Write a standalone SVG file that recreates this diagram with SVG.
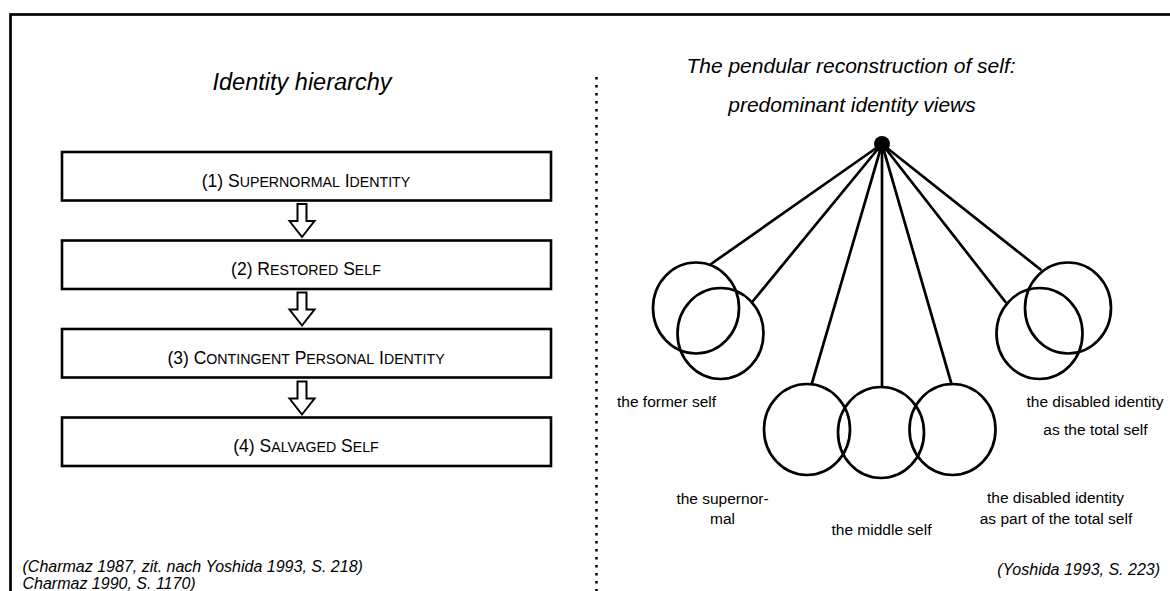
<svg xmlns="http://www.w3.org/2000/svg" width="1170" height="591" viewBox="0 0 1170 591">
  <style>
    .frame { fill: none; stroke: #000; stroke-width: 2.7; }
    .box { fill: #fff; stroke: #000; stroke-width: 2.6; }
    .boxtxt { font-family: "Liberation Sans", Arial, sans-serif; font-size: 17.5px; fill: #000; text-anchor: middle; }
    .sc { font-size: 14.2px; }
    .arrow { fill: #fff; stroke: #000; stroke-width: 2; stroke-linejoin: miter; }
    .title { font-family: "Liberation Sans", Arial, sans-serif; font-style: italic; fill: #000; text-anchor: middle; }
    .cite { font-family: "Liberation Sans", Arial, sans-serif; font-style: italic; font-size: 16px; fill: #000; }
    .lbl { font-family: "Liberation Sans", Arial, sans-serif; font-size: 15.5px; fill: #000; text-anchor: middle; }
    .string { stroke: #000; stroke-width: 2.7; fill: none; stroke-linecap: round; }
    .bob { fill: none; stroke: #000; stroke-width: 2.7; }
    .divider { stroke: #000; stroke-width: 2.6; stroke-dasharray: 2.6 5.4; fill: none; }
  </style>
  <defs>
    <!-- hollow block arrow, tip at (0,33) -->
    <path id="down" d="M-4.5,0 H4.5 V17 H12.5 L0,33 L-12.5,17 H-4.5 Z"/>
  </defs>

  <rect width="1170" height="591" fill="#fff"/>
  <!-- outer frame (runs off the right and bottom edges) -->
  <rect class="frame" x="10.5" y="14.5" width="1200" height="620"/>

  <!-- vertical dotted divider -->
  <line class="divider" x1="596.5" y1="77" x2="596.5" y2="591"/>

  <!-- left panel: identity hierarchy -->
  <text class="title" x="302" y="90" font-size="23.5">Identity hierarchy</text>

  <g id="level1">
    <rect class="box" x="62" y="152" width="489" height="48.5"/>
    <text class="boxtxt" x="306" y="187">(1) S<tspan class="sc">UPERNORMAL</tspan> I<tspan class="sc">DENTITY</tspan></text>
  </g>
  <g id="level2">
    <rect class="box" x="62" y="240.5" width="489" height="48.5"/>
    <text class="boxtxt" x="306" y="274.5">(2) R<tspan class="sc">ESTORED</tspan> S<tspan class="sc">ELF</tspan></text>
  </g>
  <g id="level3">
    <rect class="box" x="62" y="329" width="489" height="48.5"/>
    <text class="boxtxt" x="306" y="363.5">(3) C<tspan class="sc">ONTINGENT</tspan> P<tspan class="sc">ERSONAL</tspan> I<tspan class="sc">DENTITY</tspan></text>
  </g>
  <g id="level4">
    <rect class="box" x="62" y="417.5" width="489" height="48.5"/>
    <text class="boxtxt" x="306" y="452">(4) S<tspan class="sc">ALVAGED</tspan> S<tspan class="sc">ELF</tspan></text>
  </g>

  <g id="connectors">
    <use href="#down" class="arrow" x="302" y="204"/>
    <use href="#down" class="arrow" x="302" y="292.5"/>
    <use href="#down" class="arrow" x="302" y="381.5"/>
  </g>

  <text class="cite" x="22.5" y="572">(Charmaz 1987, zit. nach Yoshida 1993, S. 218)</text>
  <text class="cite" x="22.5" y="588.5">Charmaz 1990, S. 1170)</text>

  <!-- right panel: pendulum -->
  <text class="title" x="851" y="73" font-size="21">The pendular reconstruction of self:</text>
  <text class="title" x="852" y="112" font-size="21">predominant identity views</text>

  <g id="pendulum-strings">
    <line class="string" x1="882" y1="144" x2="711" y2="264"/>
    <line class="string" x1="882" y1="144" x2="753" y2="301"/>
    <line class="string" x1="882" y1="144" x2="812" y2="383"/>
    <line class="string" x1="882" y1="144" x2="882" y2="387"/>
    <line class="string" x1="882" y1="144" x2="951.5" y2="384"/>
    <line class="string" x1="882" y1="144" x2="1005.5" y2="302"/>
    <line class="string" x1="882" y1="144" x2="1040.5" y2="269.5"/>
  </g>

  <g id="pivot">
    <circle cx="882" cy="144" r="8" fill="#000"/>
  </g>

  <g id="former-self">
    <ellipse class="bob" cx="696" cy="308" rx="43" ry="45.5"/>
    <ellipse class="bob" cx="720.5" cy="333.5" rx="43" ry="45.5"/>
    <text class="lbl" x="666.5" y="407">the former self</text>
  </g>

  <g id="supernormal">
    <ellipse class="bob" cx="807" cy="429.5" rx="43" ry="45.5"/>
    <text class="lbl" x="722.5" y="503.5">the supernor-</text>
    <text class="lbl" x="722.5" y="523.5">mal</text>
  </g>

  <g id="middle-self">
    <ellipse class="bob" cx="881" cy="432.5" rx="43" ry="45.5"/>
    <text class="lbl" x="881.5" y="535">the middle self</text>
  </g>

  <g id="disabled-part">
    <ellipse class="bob" cx="952.5" cy="429.5" rx="43" ry="45.5"/>
    <text class="lbl" x="1055.5" y="502.5">the disabled identity</text>
    <text class="lbl" x="1056" y="523.5">as part of the total self</text>
  </g>

  <g id="disabled-total">
    <ellipse class="bob" cx="1039.5" cy="333.5" rx="43" ry="45.5"/>
    <ellipse class="bob" cx="1068" cy="308" rx="43" ry="45.5"/>
    <text class="lbl" x="1095" y="407">the disabled identity</text>
    <text class="lbl" x="1095.5" y="434.5">as the total self</text>
  </g>

  <text class="cite" x="1160" y="575" text-anchor="end">(Yoshida 1993, S. 223)</text>
</svg>
